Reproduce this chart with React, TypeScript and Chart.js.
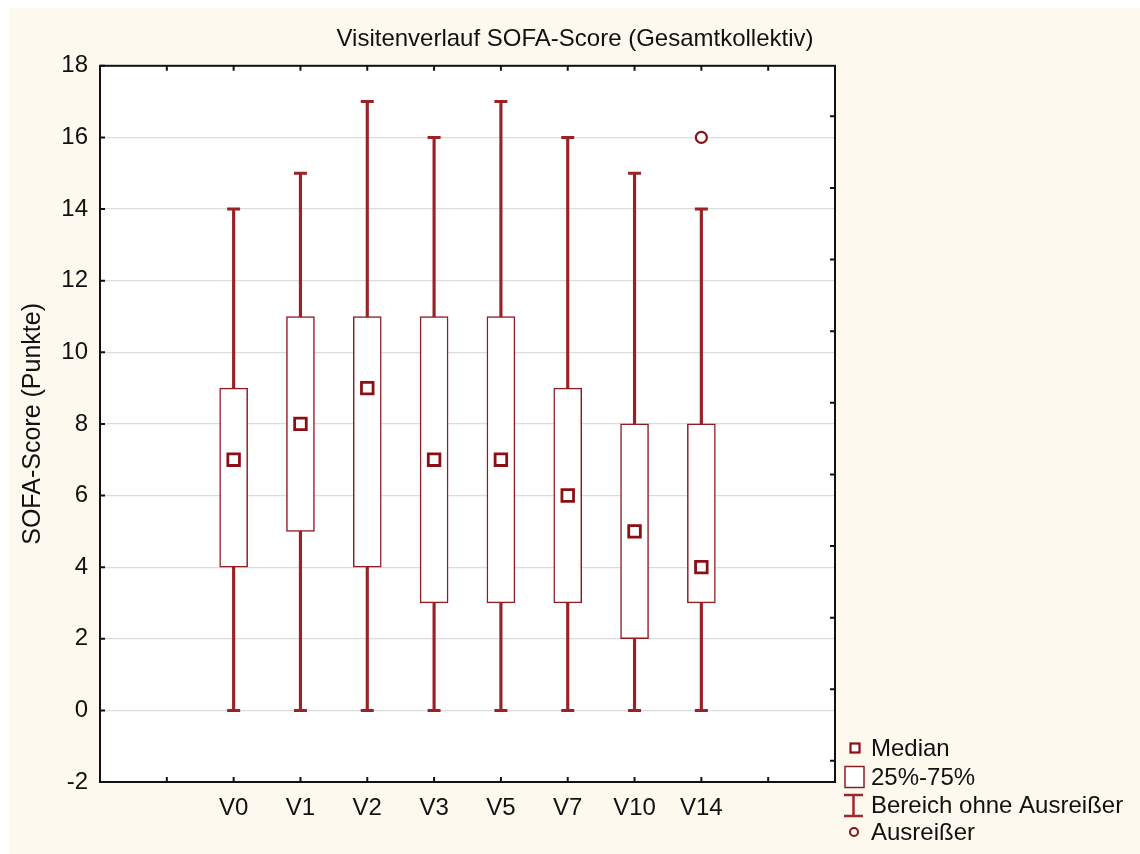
import { useEffect, useRef } from 'react';
import { Chart, registerables } from 'chart.js';

Chart.register(...registerables);

// Visits and their box-plot statistics (SOFA points)
const VISITS = ['V0', 'V1', 'V2', 'V3', 'V5', 'V7', 'V10', 'V14'];
const WHISKER_LOW = [0, 0, 0, 0, 0, 0, 0, 0];
const Q1 = [4, 5, 4, 3, 3, 3, 2, 3];
const MEDIAN = [7, 8, 9, 7, 7, 6, 5, 4];
const Q3 = [9, 11, 11, 11, 11, 9, 8, 8];
const WHISKER_HIGH = [14, 15, 17, 16, 17, 16, 15, 14];
const OUTLIER_VISITS = ['V14'];
const OUTLIER_VALUES = [16];

const LEGEND_LABELS = ['Median', '25%-75%', 'Bereich ohne Ausreißer', 'Ausreißer'];

const Y_MIN = -2;
const Y_MAX = 18;
const Y_STEP = 2;
const X_SLOTS = 11; // empty slots on both sides of the visits
const FIRST_SLOT = 2;

const DARK_RED = '#8b0f14';
const BOX_RED = '#8f1d22';
const WHISKER_RED = '#9a2227';
const FONT = '"Liberation Sans", Arial, sans-serif';
const TEXT = '#111111';
const RIGHT_TICK_SHIFT = 0.59;

const slot = (i: number) => i + FIRST_SLOT;
const visitSlot = (v: string) => slot(VISITS.indexOf(v));

const framePlugin = {
  id: 'frameAndLegend',
  beforeDraw(chart: any) {
    const { ctx, chartArea: a } = chart;
    ctx.save();
    ctx.fillStyle = '#ffffff';
    ctx.fillRect(a.left, a.top, a.right - a.left, a.bottom - a.top);
    ctx.restore();
  },
  afterDraw(chart: any) {
    const { ctx, chartArea: a, scales } = chart;
    const xs = scales.x;
    const ys = scales.y;
    ctx.save();
    ctx.strokeStyle = '#111';
    ctx.lineWidth = 2;
    ctx.strokeRect(a.left, a.top, a.right - a.left, a.bottom - a.top);
    const tick = 5;
    ctx.beginPath();
    for (let v = Y_MIN; v <= Y_MAX; v += Y_STEP) {
      const y = ys.getPixelForValue(v);
      ctx.moveTo(a.left, y);
      ctx.lineTo(a.left + tick, y);
      const yr = ys.getPixelForValue(v + RIGHT_TICK_SHIFT);
      if (yr > a.top + 2 && yr < a.bottom - 2) {
        ctx.moveTo(a.right, yr);
        ctx.lineTo(a.right - tick, yr);
      }
    }
    for (let s = 1; s < X_SLOTS; s++) {
      const x = xs.getPixelForValue(s);
      ctx.moveTo(x, a.bottom);
      ctx.lineTo(x, a.bottom - tick);
      ctx.moveTo(x, a.top);
      ctx.lineTo(x, a.top + tick);
    }
    ctx.stroke();

    // legend in the lower right corner
    const sx = a.right + 20;
    const tx = a.right + 36;
    const rows = [a.bottom - 34, a.bottom - 5, a.bottom + 23, a.bottom + 50];
    ctx.strokeStyle = DARK_RED;
    ctx.fillStyle = '#fff';
    // median square
    ctx.lineWidth = 2.2;
    ctx.fillRect(sx - 4.5, rows[0] - 4.5, 9, 9);
    ctx.strokeRect(sx - 4.5, rows[0] - 4.5, 9, 9);
    // quartile box
    ctx.lineWidth = 1.5;
    ctx.strokeStyle = BOX_RED;
    ctx.fillRect(sx - 10, rows[1] - 10.5, 19, 21);
    ctx.strokeRect(sx - 10, rows[1] - 10.5, 19, 21);
    // whisker symbol
    ctx.lineWidth = 2.5;
    ctx.strokeStyle = '#a0282d';
    ctx.beginPath();
    ctx.moveTo(sx - 1.5, rows[2] - 10);
    ctx.lineTo(sx - 1.5, rows[2] + 11);
    ctx.moveTo(sx - 11, rows[2] - 10);
    ctx.lineTo(sx + 8, rows[2] - 10);
    ctx.moveTo(sx - 11, rows[2] + 11);
    ctx.lineTo(sx + 8, rows[2] + 11);
    ctx.stroke();
    // outlier circle
    ctx.lineWidth = 2;
    ctx.strokeStyle = DARK_RED;
    ctx.beginPath();
    ctx.arc(sx - 1, rows[3], 4, 0, Math.PI * 2);
    ctx.fill();
    ctx.stroke();

    ctx.fillStyle = TEXT;
    ctx.font = `24px ${FONT}`;
    ctx.textAlign = 'left';
    ctx.textBaseline = 'middle';
    LEGEND_LABELS.forEach((t, i) => ctx.fillText(t, tx, rows[i] + 1));
    ctx.restore();
  },
};

export default function App() {
  const ref = useRef<HTMLCanvasElement>(null);

  useEffect(() => {
    document.body.style.margin = '0';
    const whiskers = VISITS.map((_, i) => ({ x: slot(i), y: [WHISKER_LOW[i], WHISKER_HIGH[i]] }));
    const boxes = VISITS.map((_, i) => ({ x: slot(i), y: [Q1[i], Q3[i]] }));
    const caps = VISITS.flatMap((_, i) => [
      { x: slot(i), y: WHISKER_LOW[i] },
      { x: slot(i), y: WHISKER_HIGH[i] },
    ]);
    const medians = VISITS.map((_, i) => ({ x: slot(i), y: MEDIAN[i] }));
    const outliers = OUTLIER_VISITS.map((v, i) => ({ x: visitSlot(v), y: OUTLIER_VALUES[i] }));

    const chart = new Chart(ref.current as HTMLCanvasElement, {
      type: 'bar',
      data: {
        datasets: [
          {
            type: 'bar',
            label: 'Bereich ohne Ausreißer',
            data: whiskers as any,
            backgroundColor: WHISKER_RED,
            barThickness: 2.5,
            grouped: false,
            order: 4,
          },
          {
            type: 'bar',
            label: '25%-75%',
            data: boxes as any,
            backgroundColor: '#ffffff',
            borderColor: BOX_RED,
            borderWidth: 1.5,
            borderSkipped: false,
            barThickness: 28,
            grouped: false,
            order: 3,
          },
          {
            type: 'line',
            label: 'caps',
            data: caps as any,
            showLine: false,
            pointStyle: 'line',
            pointRadius: 6.5,
            pointBorderWidth: 3,
            pointBorderColor: WHISKER_RED,
            order: 2,
          },
          {
            type: 'line',
            label: 'Median',
            data: medians as any,
            showLine: false,
            pointStyle: 'rect',
            pointRadius: 8.2,
            pointBorderWidth: 2.8,
            pointBorderColor: DARK_RED,
            pointBackgroundColor: '#ffffff',
            order: 1,
          },
          {
            type: 'line',
            label: 'Ausreißer',
            data: outliers as any,
            showLine: false,
            pointStyle: 'circle',
            pointRadius: 5.5,
            pointBorderWidth: 2.2,
            pointBorderColor: DARK_RED,
            pointBackgroundColor: '#ffffff',
            order: 1,
          },
        ],
      },
      options: {
        responsive: false,
        animation: false,
        devicePixelRatio: 1,
        events: [],
        layout: { padding: 0 },
        plugins: {
          legend: { display: false },
          tooltip: { enabled: false },
          title: {
            display: true,
            text: 'Visitenverlauf SOFA-Score (Gesamtkollektiv)',
            color: TEXT,
            font: { family: FONT, size: 24, weight: 'normal' },
            padding: { top: 17, bottom: 12 },
          },
        },
        scales: {
          x: {
            type: 'linear',
            min: 0,
            max: X_SLOTS,
            offset: false,
            grid: { display: false, drawTicks: false, offset: false },
            border: { display: false },
            ticks: {
              stepSize: 1,
              autoSkip: false,
              maxRotation: 0,
              padding: 12,
              color: TEXT,
              font: { family: FONT, size: 24 },
              callback: (v: any) => {
                const i = Number(v) - FIRST_SLOT;
                return i >= 0 && i < VISITS.length ? VISITS[i] : '';
              },
            },
            afterFit: (s: any) => {
              s.height = 72;
            },
          },
          y: {
            type: 'linear',
            min: Y_MIN,
            max: Y_MAX,
            grid: { color: '#dcdcdc', lineWidth: 1.2, drawTicks: false },
            border: { display: false },
            ticks: {
              stepSize: Y_STEP,
              padding: 12,
              color: TEXT,
              font: { family: FONT, size: 24 },
            },
            title: {
              display: true,
              text: 'SOFA-Score (Punkte)',
              color: TEXT,
              font: { family: FONT, size: 25 },
              padding: { top: 8, bottom: 0 },
            },
            afterFit: (s: any) => {
              s.width = 90;
            },
          },
          // blank right-hand scale that reserves room for the legend
          yLegend: {
            type: 'linear',
            position: 'right',
            min: Y_MIN,
            max: Y_MAX,
            grid: { display: false, drawTicks: false },
            border: { display: false },
            ticks: { display: false },
            afterFit: (s: any) => {
              s.width = 305;
            },
          },
        },
      },
      plugins: [framePlugin],
    });
    return () => chart.destroy();
  }, []);

  return (
    <div
      style={{
        position: 'absolute',
        left: 10,
        top: 8,
        width: 1130,
        height: 846,
        background: '#fef9ee',
      }}
    >
      <canvas ref={ref} width={1130} height={846} style={{ display: 'block', width: 1130, height: 846 }} />
    </div>
  );
}
